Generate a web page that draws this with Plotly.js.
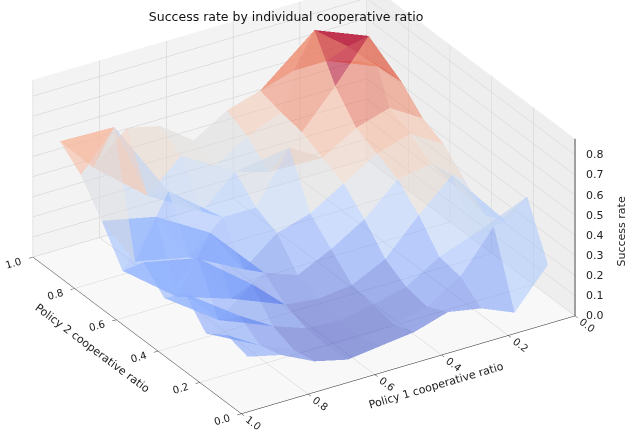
<!DOCTYPE html>
<html>
<head>
<meta charset="utf-8">
<script src="https://cdn.plot.ly/plotly-3.0.1.min.js"></script>
<style>html,body{margin:0;padding:0;background:#fff;}#chart{width:640px;height:448px;}</style>
</head>
<body>
<div id="chart"></div>
<script>
// Policy 2 cooperative ratio (x) and Policy 1 cooperative ratio (y) bin centres
const policy2 = [0.05, 0.15, 0.25, 0.35, 0.45, 0.55, 0.65, 0.75, 0.85, 0.95];
const policy1 = [0.05, 0.15, 0.25, 0.35, 0.45, 0.55, 0.65, 0.75, 0.85, 0.95];
// success rate: rows = policy1, columns = policy2
const successRate = [
  [0.24, 0.50, 0.30, 0.25, 0.35, 0.45, 0.50, 0.60, 0.60, 0.55],
  [0.05, 0.40, 0.28, 0.50, 0.48, 0.55, 0.60, 0.88, 0.75, 0.60],
  [0.12, 0.20, 0.22, 0.35, 0.45, 0.50, 0.55, 0.68, 0.88, 0.60],
  [0.15, 0.10, 0.12, 0.18, 0.30, 0.40, 0.45, 0.50, 0.52, 0.55],
  [0.10, 0.06, 0.08, 0.10, 0.20, 0.30, 0.55, 0.35, 0.45, 0.50],
  [0.08, 0.04, 0.05, 0.08, 0.12, 0.25, 0.30, 0.40, 0.35, 0.40],
  [0.06, 0.05, 0.06, 0.10, 0.18, 0.12, 0.30, 0.25, 0.45, 0.52],
  [0.10, 0.08, 0.12, 0.25, 0.10, 0.35, 0.15, 0.40, 0.30, 0.56],
  [0.18, 0.15, 0.22, 0.12, 0.35, 0.08, 0.40, 0.10, 0.69, 0.41],
  [0.22, 0.25, 0.18, 0.30, 0.20, 0.30, 0.18, 0.35, 0.50, 0.59]
];
const axisTicks = [0, 0.2, 0.4, 0.6, 0.8, 1.0];
const rateTicks = [0, 0.1, 0.2, 0.3, 0.4, 0.5, 0.6, 0.7, 0.8];
const ratioRange = [0, 1];
const rateRange = [0, 0.88];

const coolwarm = [
  [0.0,'rgb(59,76,192)'],[0.0625,'rgb(77,104,215)'],[0.125,'rgb(98,130,234)'],
  [0.1875,'rgb(119,154,247)'],[0.25,'rgb(141,176,254)'],[0.3125,'rgb(163,194,255)'],
  [0.375,'rgb(184,208,249)'],[0.4375,'rgb(204,217,238)'],[0.5,'rgb(221,221,221)'],
  [0.5625,'rgb(236,211,197)'],[0.625,'rgb(245,196,173)'],[0.6875,'rgb(247,177,148)'],
  [0.75,'rgb(244,154,123)'],[0.8125,'rgb(236,127,99)'],[0.875,'rgb(222,96,77)'],
  [0.9375,'rgb(203,62,56)'],[1.0,'rgb(180,4,38)']
];

// Build a faceted mesh (one colour per grid cell = mean of its corners, like plot_surface)
const vx = [], vy = [], vz = [];
policy1.forEach(function(p1, i){ policy2.forEach(function(p2, j){ vx.push(p2); vy.push(p1); vz.push(successRate[i][j]); }); });
const n = policy2.length;
const I = [], J = [], K = [], cellVal = [];
for (let i = 0; i < policy1.length - 1; i++) {
  for (let j = 0; j < n - 1; j++) {
    const a = i*n + j, b = i*n + j + 1, c = (i+1)*n + j + 1, d = (i+1)*n + j;
    const m = (vz[a] + vz[b] + vz[c] + vz[d]) / 4;
    I.push(a); J.push(b); K.push(c); cellVal.push(m);
    I.push(a); J.push(c); K.push(d); cellVal.push(m);
  }
}

const surface = {
  type: 'mesh3d', x: vx, y: vy, z: vz, i: I, j: J, k: K,
  intensity: cellVal, intensitymode: 'cell',
  colorscale: coolwarm, cmin: Math.min.apply(null, cellVal), cmax: Math.max.apply(null, cellVal),
  showscale: false, opacity: 0.55, flatshading: true,
  lighting: {ambient: 1, diffuse: 0, specular: 0, roughness: 1, fresnel: 0},
  hoverinfo: 'skip'
};

// z axis drawn on the right-hand vertical edge (Policy 1 = 0, Policy 2 = 0)
const zAxisLine = {
  type: 'scatter3d', mode: 'lines',
  x: [ratioRange[0], ratioRange[0]], y: [ratioRange[0], ratioRange[0]], z: rateRange,
  line: {color: 'rgb(30,30,30)', width: 2}, hoverinfo: 'skip', showlegend: false
};

function ax(extra) {
  const base = {
    showbackground: true, gridcolor: 'rgb(205,205,205)', gridwidth: 1,
    showline: true, linecolor: 'rgb(30,30,30)', linewidth: 1,
    ticks: 'outside', ticklen: 5, tickcolor: 'rgb(30,30,30)',
    zeroline: false, showspikes: false,
    tickfont: {family: 'DejaVu Sans', size: 11, color: '#222'},
    tickformat: '.1f'
  };
  return Object.assign(base, extra);
}

const zLabelAnnotations = rateTicks.map(function(v){
  return {x: ratioRange[0], y: ratioRange[0], z: v, text: v.toFixed(1), showarrow: false,
          xanchor: 'left', xshift: 9, font: {family: 'DejaVu Sans', size: 11, color: '#222'}};
});
zLabelAnnotations.push({x: ratioRange[0], y: ratioRange[0], z: 0.42, text: 'Success rate', showarrow: false,
  textangle: -90, xanchor: 'center', xshift: 46, font: {family: 'DejaVu Sans', size: 11, color: '#222'}});

const phi = 148 * Math.PI / 180, theta = 28 * Math.PI / 180, r = 3.2, k = 1.83, cz = -0.09;
const layout = {
  width: 640, height: 448,
  margin: {l: 0, r: 0, t: 0, b: 0},
  paper_bgcolor: '#fff', showlegend: false,
  font: {family: 'DejaVu Sans', color: '#222'},
  title: {text: 'Success rate by individual cooperative ratio', x: 0.447, xanchor: 'center',
          y: 0.962, yanchor: 'middle', yref: 'container', font: {family: 'DejaVu Sans', size: 12.5, color: '#111'}},
  scene: {
    domain: {x: [0, 0.95], y: [0.04, 1]},
    aspectmode: 'manual', aspectratio: {x: k, y: k, z: 0.51*k},
    camera: {
      eye: {x: r*Math.cos(theta)*Math.cos(phi), y: r*Math.cos(theta)*Math.sin(phi), z: r*Math.sin(theta) + cz},
      up: {x: 0, y: 0, z: 1}, center: {x: 0, y: 0, z: cz},
      projection: {type: 'orthographic'}
    },
    xaxis: ax({range: ratioRange, tickvals: axisTicks, backgroundcolor: 'rgb(243,243,243)',
      title: {text: 'Policy 2 cooperative ratio', font: {family: 'DejaVu Sans', size: 11}}}),
    yaxis: ax({range: ratioRange, tickvals: axisTicks, backgroundcolor: 'rgb(238,238,238)',
      title: {text: 'Policy 1 cooperative ratio', font: {family: 'DejaVu Sans', size: 11}}}),
    zaxis: ax({range: rateRange, tickvals: rateTicks, backgroundcolor: 'rgb(248,248,248)',
      showticklabels: false, ticks: '', showline: false, title: {text: ''}}),
    annotations: zLabelAnnotations
  }
};

Plotly.newPlot('chart', [surface, zAxisLine], layout, {displayModeBar: false});
</script>
</body>
</html>
